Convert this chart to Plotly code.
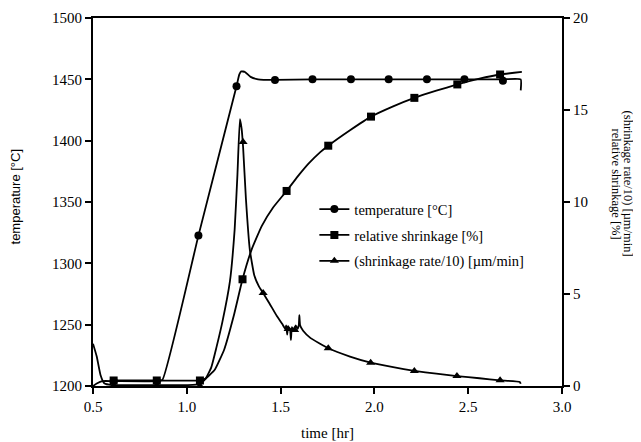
import plotly.graph_objects as go

# ---- data ----
temp_time = [0.50, 0.52, 0.55, 0.61, 0.84, 0.87, 1.062, 1.265, 1.28, 1.29, 1.31, 1.34, 1.38, 1.47,
             1.67, 1.875, 2.076, 2.28, 2.48, 2.685, 2.78, 2.78]
temp_vals = [1200, 1202, 1204, 1204, 1204, 1205, 1322.6, 1444.4, 1454, 1456.5, 1456, 1452, 1450, 1449.5,
             1450, 1450, 1450, 1450, 1450, 1450, 1450, 1441]
temp_mk_time = [0.61, 0.84, 1.062, 1.265, 1.47, 1.67, 1.875, 2.076, 2.28, 2.48, 2.685]
temp_mk_vals = [1204, 1204, 1322.6, 1444.4, 1449.5, 1450, 1450, 1450, 1450, 1450, 1448.8]

shr_time = [0.60, 0.84, 1.07, 1.10, 1.15, 1.20, 1.25, 1.297, 1.345, 1.40, 1.46, 1.532, 1.60, 1.65, 1.71,
            1.754, 1.87, 1.982, 2.10, 2.213, 2.33, 2.442, 2.56, 2.67, 2.786]
shr_vals = [0.3, 0.3, 0.3, 0.4, 0.9, 2.0, 3.8, 5.8, 7.4, 8.7, 9.7, 10.6, 11.5, 12.1, 12.7,
            13.06, 13.9, 14.64, 15.2, 15.66, 16.05, 16.39, 16.7, 16.93, 17.07]
shr_mk_time = [0.61, 0.84, 1.07, 1.297, 1.532, 1.754, 1.982, 2.213, 2.442, 2.67]
shr_mk_vals = [0.3, 0.3, 0.3, 5.8, 10.6, 13.06, 14.64, 15.66, 16.39, 16.93]

rate_time = [0.50, 0.52, 0.54, 0.56, 0.60, 0.80, 1.00, 1.07, 1.10, 1.13, 1.158, 1.19, 1.23, 1.255, 1.27,
             1.283, 1.292, 1.30, 1.315, 1.336, 1.36, 1.385, 1.407, 1.44, 1.48, 1.51, 1.525, 1.53, 1.535,
             1.54, 1.55, 1.555, 1.56, 1.57, 1.58, 1.59, 1.597, 1.60, 1.604, 1.62, 1.66, 1.71, 1.754,
             1.87, 1.98, 2.10, 2.213, 2.33, 2.44, 2.56, 2.67, 2.775, 2.78]
rate_vals = [2.3, 1.6, 0.6, 0.15, 0.05, 0.05, 0.05, 0.1, 0.4, 1.0, 2.1, 3.5, 5.7, 8.5, 11.5,
             14.5, 14.0, 13.0, 10.2, 7.4, 6.0, 5.4, 5.05, 4.5, 3.8, 3.35, 3.1, 3.3, 2.8,
             3.2, 3.1, 2.5, 3.2, 3.0, 3.3, 3.1, 3.3, 3.85, 3.3, 3.0, 2.6, 2.3, 2.05,
             1.6, 1.27, 1.02, 0.82, 0.67, 0.54, 0.42, 0.31, 0.22, 0.12]
rate_mk_time = [0.61, 0.84, 1.07, 1.30, 1.407, 1.54, 1.575, 1.754, 1.98, 2.213, 2.44, 2.67]
rate_mk_vals = [0.0, 0.0, 0.0, 13.26, 5.05, 3.1, 3.05, 2.05, 1.27, 0.82, 0.54, 0.31]

names = ["temperature [°C]", "relative shrinkage [%]", "(shrinkage rate/10) [µm/min]"]
symbols = ["circle", "square", "triangle-up"]

x_ticks = [0.5, 1.0, 1.5, 2.0, 2.5, 3.0]
y_ticks = [1200, 1250, 1300, 1350, 1400, 1450, 1500]
y2_ticks = [0, 5, 10, 15, 20]

SERIF = "Liberation Serif, Times New Roman, serif"
SANS = "Liberation Sans, Arial, sans-serif"
LW = 1.8
MS = 8

fig = go.Figure()

series = [
    (temp_time, temp_vals, temp_mk_time, temp_mk_vals, "y"),
    (shr_time, shr_vals, shr_mk_time, shr_mk_vals, "y2"),
    (rate_time, rate_vals, rate_mk_time, rate_mk_vals, "y2"),
]

for i, (lt, lv, mt, mv, ax) in enumerate(series):
    fig.add_trace(go.Scatter(x=lt, y=lv, mode="lines", yaxis=ax, showlegend=False,
                             line=dict(color="black", width=LW, shape="spline", smoothing=0.4),
                             hoverinfo="skip"))
    fig.add_trace(go.Scatter(x=mt, y=mv, mode="markers", yaxis=ax, showlegend=False,
                             marker=dict(symbol=symbols[i], size=MS, color="black")))
    # legend entry
    fig.add_trace(go.Scatter(x=[None], y=[None], mode="lines+markers", yaxis=ax, name=names[i],
                             legendgroup=f"g{i}",
                             line=dict(color="black", width=LW),
                             marker=dict(symbol=symbols[i], size=MS, color="black")))

axis_common = dict(showgrid=False, zeroline=False, showline=True, linecolor="black", linewidth=2,
                   ticks="outside", ticklen=6, tickwidth=1.5, tickcolor="black", automargin=False,
                   tickfont=dict(family=SERIF, size=15, color="black"))

# page body has an 8px margin, so the figure is 8px smaller than the window
fig.update_layout(
    width=633, height=434,
    margin=dict(l=85, r=79, t=10, b=56, autoexpand=False),
    paper_bgcolor="white", plot_bgcolor="white",
    showlegend=True,
    legend=dict(x=0.472, y=0.524, xanchor="left", yanchor="top",
                bgcolor="rgba(0,0,0,0)", borderwidth=0,
                font=dict(family=SERIF, size=14.5, color="black"),
                traceorder="grouped", tracegroupgap=4),
    xaxis=dict(range=[0.5, 3.0], tickvals=x_ticks, ticktext=[f"{v:.1f}" for v in x_ticks],
               mirror=True, **axis_common),
    yaxis=dict(range=[1200, 1500], tickvals=y_ticks, **axis_common),
    yaxis2=dict(range=[0, 20], tickvals=y2_ticks, overlaying="y", side="right",
                **axis_common),
    annotations=[
        dict(text="time [hr]", xref="paper", yref="paper", x=0.5, y=0, yshift=-47,
             xanchor="center", yanchor="middle", showarrow=False,
             font=dict(family=SERIF, size=15, color="black")),
        dict(text="temperature [°C]", textangle=-90, xref="paper", yref="paper",
             x=0, xshift=-78, y=0.515, xanchor="center", yanchor="middle", showarrow=False,
             font=dict(family=SANS, size=13, color="black")),
        dict(text="(shrinkage rate/10) [µm/min]", textangle=90, xref="paper", yref="paper",
             x=1.0, xshift=66, y=0.55, xanchor="center", yanchor="middle", showarrow=False,
             font=dict(family=SERIF, size=12.5, color="black")),
        dict(text="relative shrinkage [%]", textangle=90, xref="paper", yref="paper",
             x=1.0, xshift=54, y=0.55, xanchor="center", yanchor="middle", showarrow=False,
             font=dict(family=SERIF, size=12.5, color="black")),
    ],
)

fig.write_html("out.html")
